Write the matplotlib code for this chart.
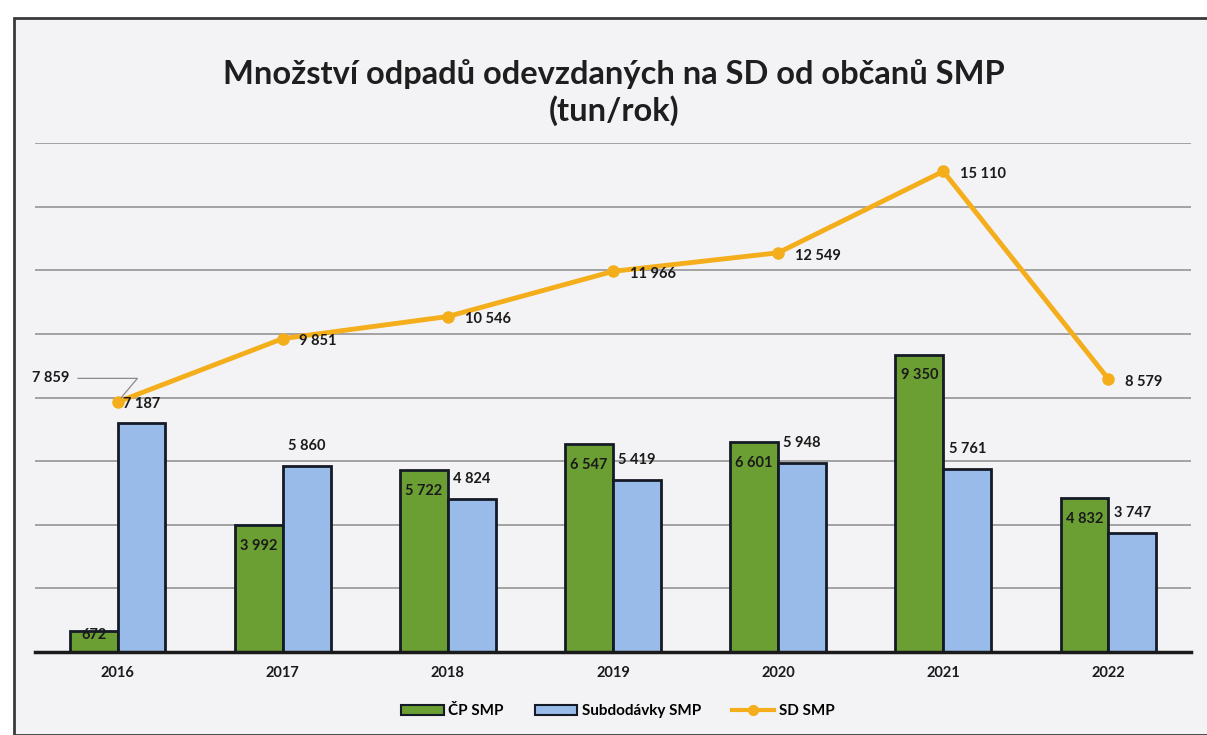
import numpy as np
import matplotlib.pyplot as plt
from matplotlib.patches import Rectangle, Patch
from matplotlib.lines import Line2D

years = ["2016", "2017", "2018", "2019", "2020", "2021", "2022"]
cp_smp = [672, 3992, 5722, 6547, 6601, 9350, 4832]
subdodavky_smp = [7187, 5860, 4824, 5419, 5948, 5761, 3747]
sd_smp = [7859, 9851, 10546, 11966, 12549, 15110, 8579]

GREEN = "#6b9f34"
BLUE = "#98bbea"
EDGE = "#141a26"
ORANGE = "#f4ae1c"
TEXT = "#1a1a1a"

plt.rcParams["font.family"] = ["Lato", "DejaVu Sans"]


def fmt(v):
    return f"{v:,}".replace(",", " ")


fig = plt.figure(figsize=(12.07, 7.35), dpi=100)
fig.patch.set_facecolor("white")
fig.patches.append(Rectangle((14 / 1207, 0), 1.0, 1 - 18 / 735, transform=fig.transFigure,
                             facecolor="#f3f3f5", edgecolor="#3a3a3a", linewidth=2.0, zorder=-5))

ax = fig.add_axes([35 / 1207, 83 / 735, 1156 / 1207, 509 / 735])
ax.set_facecolor("none")

x = np.arange(len(years))
w = 0.29

for gy in range(2000, 16001, 2000):
    ax.axhline(gy, color="#9c9c9c", linewidth=1.3, zorder=1)

ax.bar(x - w / 2, cp_smp, width=w, color=GREEN, edgecolor=EDGE, linewidth=2, zorder=3)
ax.bar(x + w / 2, subdodavky_smp, width=w, color=BLUE, edgecolor=EDGE, linewidth=2, zorder=3)
ax.plot(x, sd_smp, color=ORANGE, linewidth=3.5, marker="o", markersize=8, zorder=5)

ax.set_xlim(-0.5, len(years) - 0.5)
ax.set_ylim(0, 16000)

lab = dict(fontsize=10.5, fontweight="bold", color=TEXT, zorder=6)

for i, v in enumerate(cp_smp):
    if v < 1500:
        ax.annotate(fmt(v), (x[i] - w / 2, v), xytext=(0, -3), textcoords="offset points",
                    ha="center", va="center", **lab)
    else:
        ax.annotate(fmt(v), (x[i] - w / 2, v), xytext=(0, -15), textcoords="offset points",
                    ha="center", va="center", **lab)

for i, v in enumerate(subdodavky_smp):
    ax.annotate(fmt(v), (x[i] + w / 2, v), xytext=(0, 14), textcoords="offset points",
                ha="center", va="center", **lab)

for i, v in enumerate(sd_smp):
    if i == 0:
        ax.annotate(fmt(v), (x[i], v), xytext=(-48, 17), textcoords="offset points",
                    ha="center", va="center",
                    arrowprops=dict(arrowstyle="-", color="#8a8a8a", linewidth=0.9,
                                    shrinkA=4, shrinkB=4,
                                    connectionstyle="angle,angleA=0,angleB=50,rad=0"),
                    **lab)
    else:
        ax.annotate(fmt(v), (x[i], v), xytext=(12, -2), textcoords="offset points",
                    ha="left", va="center", **lab)

for s in ["top", "right", "left"]:
    ax.spines[s].set_visible(False)
ax.spines["bottom"].set_linewidth(2.5)
ax.spines["bottom"].set_color("#1a1a1a")
ax.spines["bottom"].set_zorder(4)
ax.set_yticks([])
ax.set_xticks(x)
ax.set_xticklabels(years, fontsize=10.5, fontweight="bold", color=TEXT)
ax.tick_params(axis="x", length=0, pad=10)

fig.text(0.509, 0.874, "Množství odpadů odevzdaných na SD od občanů SMP\n(tun/rok)",
         ha="center", va="center", fontsize=23.5, fontweight="bold", color="#1e1e1e",
         linespacing=1.25)

handles = [
    Patch(facecolor=GREEN, edgecolor=EDGE, linewidth=1.5, label="ČP SMP"),
    Patch(facecolor=BLUE, edgecolor=EDGE, linewidth=1.5, label="Subdodávky SMP"),
    Line2D([0], [0], color=ORANGE, linewidth=3, marker="o", markersize=7, label="SD SMP"),
]
fig.legend(handles=handles, loc="center", bbox_to_anchor=(0.512, 0.032), ncol=3,
           frameon=False, prop=dict(size=11, weight="bold"), handlelength=2.8,
           handletextpad=0.3, columnspacing=2.0)

fig.savefig("out.png", dpi=100)
